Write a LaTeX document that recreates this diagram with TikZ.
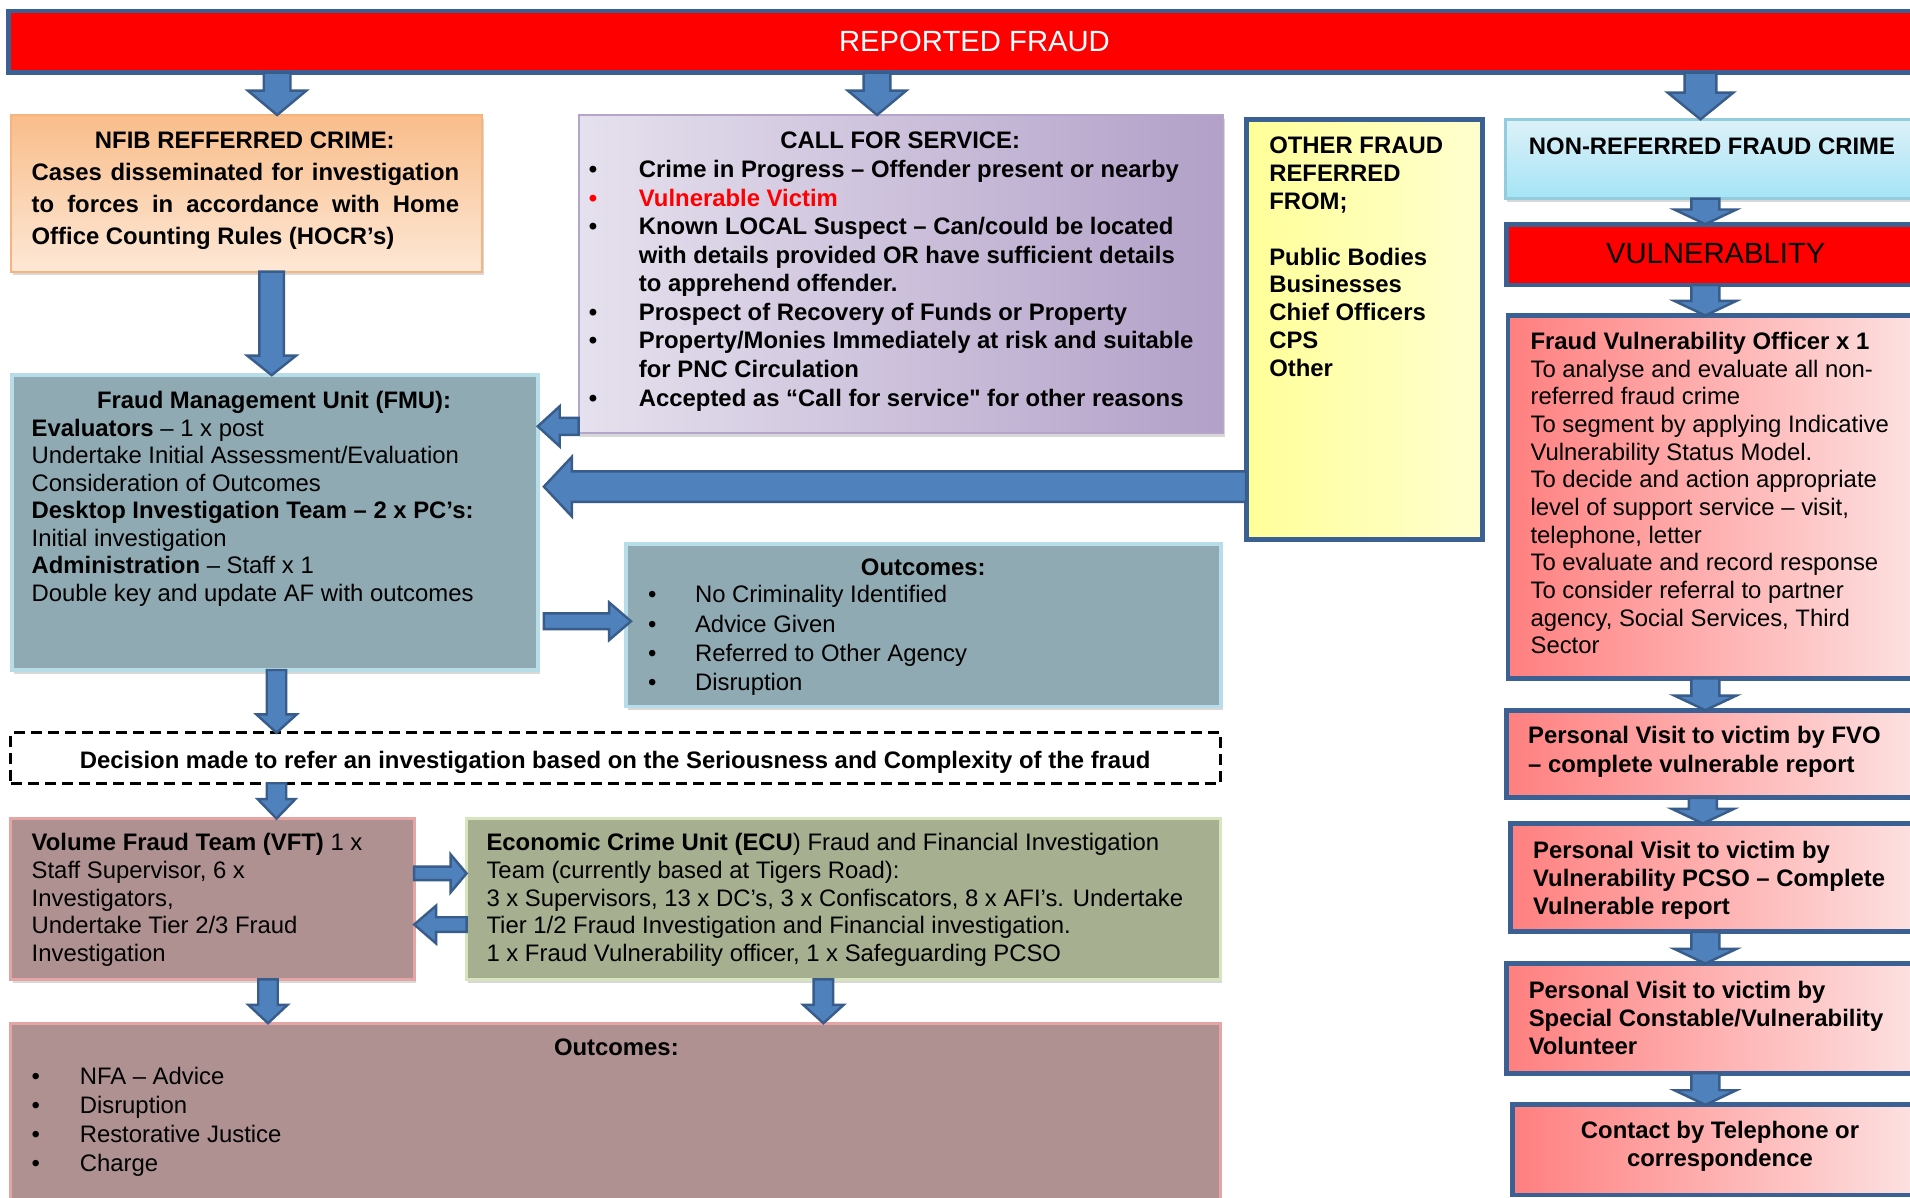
\documentclass[tikz,border=0pt]{standalone}
\usepackage{fontspec}
\setmainfont{Liberation Sans}
\usetikzlibrary{calc,fit,shadows}

\definecolor{arrF}{HTML}{4F81BD}
\definecolor{arrB}{HTML}{385D8A}
\definecolor{dkB}{HTML}{3B6194}
\definecolor{nfibA}{HTML}{F9BD8A}
\definecolor{nfibB}{HTML}{FDE8D6}
\definecolor{nfibL}{HTML}{F8B47E}
\definecolor{callA}{HTML}{E6E1EE}
\definecolor{callB}{HTML}{B2A0C8}
\definecolor{callL}{HTML}{B5A5CA}
\definecolor{yelA}{HTML}{FFFF99}
\definecolor{yelB}{HTML}{FFFFCF}
\definecolor{cyanA}{HTML}{DDF1F8}
\definecolor{cyanB}{HTML}{A5E4F6}
\definecolor{cyanL}{HTML}{93CDDD}
\definecolor{pinkA}{HTML}{FF7F7F}
\definecolor{pinkB}{HTML}{FDE2E2}
\definecolor{tealF}{HTML}{8FAAB2}
\definecolor{tealL}{HTML}{B7DEE8}
\definecolor{roseF}{HTML}{B09191}
\definecolor{roseL}{HTML}{E6A5A5}
\definecolor{oliveF}{HTML}{A6AF8F}
\definecolor{oliveL}{HTML}{D7E4BD}

\newcommand\fsz{\fontsize{19.6pt}{22.7pt}\selectfont}
\newcommand\tst{\rule{0pt}{15pt}}
\newcommand\mybul[1]{\makebox[#1][l]{\textbullet}}

% block arrows: #1 start, #2 end, #3 shaft half width, #4 head half width, #5 head length
\newcommand\darr[5]{\path[barrow] let \p1=#1, \p2=#2 in
  (\x1-#3,\y1) -- (\x1+#3,\y1) -- (\x1+#3,\y2+#5) -- (\x1+#4,\y2+#5) -- (\x1,\y2)
  -- (\x1-#4,\y2+#5) -- (\x1-#3,\y2+#5) -- cycle;}
\newcommand\larr[5]{\path[barrow] let \p1=#1, \p2=#2 in
  (\x1,\y1+#3) -- (\x1,\y1-#3) -- (\x2+#5,\y1-#3) -- (\x2+#5,\y1-#4) -- (\x2,\y1)
  -- (\x2+#5,\y1+#4) -- (\x2+#5,\y1+#3) -- cycle;}
\newcommand\rarr[5]{\path[barrow] let \p1=#1, \p2=#2 in
  (\x1,\y1+#3) -- (\x1,\y1-#3) -- (\x2-#5,\y1-#3) -- (\x2-#5,\y1-#4) -- (\x2,\y1)
  -- (\x2-#5,\y1+#4) -- (\x2-#5,\y1+#3) -- cycle;}

\tikzset{
  area/.style={inner sep=0pt, outer sep=0pt},
  shd/.style={drop shadow={shadow xshift=1.5pt, shadow yshift=-3pt, opacity=.3}},
  darkbox/.style={area, draw=dkB, line width=4pt},
  pinkbox/.style={darkbox, left color=pinkA, right color=pinkB},
  txt/.style={inner sep=0pt, outer sep=0pt, anchor=north west, align=left, font=\fsz},
  ttl/.style={inner sep=0pt, outer sep=0pt, anchor=base, font=\fsz\bfseries},
  barrow/.style={fill=arrF, draw=arrB, line width=2pt, line join=miter},
}

\begin{document}
\begin{tikzpicture}[x=1pt, y=-1pt]
\clip (0,0) rectangle (1568,983);
\fill[white] (0,0) rectangle (1568,983);

% ---------- boxes ----------
\node[area, draw=dkB, line width=4pt, fill=red, fit={(7,9) (1576,59.6)}] (banner) {};
\node[area, shd, draw=nfibL, line width=1.5pt, top color=nfibA, bottom color=nfibB, fit={(9,94.4) (396,223)}] (nfib) {};
\node[area, shd, draw=callL, line width=1.5pt, left color=callA, right color=callB, fit={(475,94.4) (1004,355.6)}] (call) {};
\node[area, draw=dkB, line width=4pt, left color=yelA, right color=yelB, fit={(1023,98) (1217,443)}] (other) {};
\node[area, shd, draw=cyanL, line width=2pt, top color=cyanA, bottom color=cyanB, fit={(1236,98) (1576,163)}] (nonref) {};
\node[darkbox, fill=red, fit={(1237,184) (1576,234)}] (vuln) {};
\node[pinkbox, fit={(1238,259) (1576,557)}] (fvo) {};
\node[pinkbox, fit={(1237,583) (1576,655)}] (pva) {};
\node[pinkbox, fit={(1240,676) (1576,765)}] (pvb) {};
\node[pinkbox, fit={(1237,791) (1576,881)}] (pvc) {};
\node[pinkbox, fit={(1242,907) (1576,981)}] (pvd) {};
\node[area, shd, draw=tealL, line width=3pt, fill=tealF, fit={(10,308) (441.5,550)}] (fmu) {};
\node[area, shd, draw=tealL, line width=3pt, fill=tealF, fit={(514,446.5) (1002.5,580)}] (out1) {};
\node[area, draw=black, line width=2.5pt, dash pattern=on 9pt off 5pt, fit={(9,601.5) (1002,643)}] (dec) {};
\node[area, shd, draw=roseL, line width=2.5pt, fill=roseF, fit={(9,672) (340,804)}] (vft) {};
\node[area, shd, draw=oliveL, line width=2.5pt, fill=oliveF, fit={(383,672) (1002,804)}] (ecu) {};
\node[area, draw=roseL, line width=2.5pt, fill=roseF, fit={(9,840) (1002,995)}] (out2) {};

\coordinate (fmuR) at ([xshift=5pt]fmu.east);
\coordinate (out1L) at ([xshift=4pt]out1.west);

% ---------- arrows ----------
\darr{(227.5,0 |- banner.south)}{(227.5,0 |- nfib.north)}{11pt}{24pt}{20pt}
\darr{(720,0 |- banner.south)}{(720,0 |- call.north)}{11pt}{24pt}{20pt}
\darr{(1396,0 |- banner.south)}{(1396,0 |- nonref.north)}{13pt}{27pt}{22pt}
\darr{(223,0 |- nfib.south)}{(223,0 |- fmu.north)}{10pt}{20pt}{16pt}
\larr{(call.west |- 0,350)}{(fmu.east)}{7pt}{16.5pt}{18pt}
\larr{(other.west |- 0,399.5)}{(fmuR)}{12.5pt}{24.5pt}{23pt}
\rarr{(fmuR |- 0,510)}{(out1L)}{6.5pt}{15.5pt}{18pt}
\darr{(227,0 |- fmu.south)}{(227,0 |- dec.north)}{8pt}{16.5pt}{15pt}
\darr{(227,0 |- dec.south)}{(227,0 |- vft.north)}{8pt}{15.5pt}{16pt}
\rarr{(vft.east |- 0,717)}{(ecu.west)}{5.5pt}{15.5pt}{13pt}
\larr{(ecu.west |- 0,759)}{(vft.east)}{6pt}{15.5pt}{18pt}
\darr{(220,0 |- vft.south)}{(220,0 |- out2.north)}{8pt}{16pt}{15pt}
\darr{(676,0 |- ecu.south)}{(676,0 |- out2.north)}{8pt}{16.5pt}{15pt}
\darr{(1400,0 |- nonref.south)}{(1400,0 |- vuln.north)}{11.5pt}{25.5pt}{12pt}
\darr{(1400,0 |- vuln.south)}{(1400,0 |- fvo.north)}{11.5pt}{25.5pt}{12pt}
\darr{(1400,0 |- fvo.south)}{(1400,0 |- pva.north)}{11.5pt}{25.5pt}{12pt}
\darr{(1398,0 |- pva.south)}{(1398,0 |- pvb.north)}{11.5pt}{25.5pt}{12pt}
\darr{(1400,0 |- pvb.south)}{(1400,0 |- pvc.north)}{11.5pt}{25.5pt}{12pt}
\darr{(1400,0 |- pvc.south)}{(1400,0 |- pvd.north)}{11.5pt}{25.5pt}{12pt}

% ---------- texts ----------
\node[inner sep=0pt, anchor=base, text=white, font=\fontsize{24pt}{28pt}\selectfont] (bannerT) at (800,42) {REPORTED FRAUD};

\node[ttl] (nfibH) at (201,122) {NFIB REFFERRED CRIME:};
\node[txt, font={\fontsize{19.6pt}{26.2pt}\selectfont\bfseries}] (nfibT) at (26,133.5)
  {\tst\makebox[351pt][s]{Cases disseminated for investigation}\\\makebox[351pt][s]{to forces in accordance with Home}\\Office Counting Rules (HOCR’s)};

\node[ttl] (callH) at (739,122) {CALL FOR SERVICE:};
\node[txt, font={\fontsize{19.6pt}{23.4pt}\selectfont\bfseries}] (callT) at (483.5,131.1)
  {\tst\mybul{41pt}Crime in Progress – Offender present or nearby\\
   \textcolor{red}{\mybul{41pt}Vulnerable Victim}\\
   \mybul{41pt}Known LOCAL Suspect – Can/could be located\\
   \hspace*{41pt}with details provided OR have sufficient details\\
   \hspace*{41pt}to apprehend offender.\\
   \mybul{41pt}Prospect of Recovery of Funds or Property\\
   \mybul{41pt}Property/Monies Immediately at risk and suitable\\
   \hspace*{41pt}for PNC Circulation\\
   \mybul{41pt}Accepted as “Call for service\textquotedbl{} for other reasons};

\node[txt, font={\fontsize{19.6pt}{22.8pt}\selectfont\bfseries}] (otherT) at (1042,111.4)
  {\tst OTHER FRAUD\\REFERRED\\FROM;\\\mbox{}\\Public Bodies\\Businesses\\Chief Officers\\CPS\\Other};

\node[inner sep=0pt, anchor=base west, font=\fsz\bfseries] (nonrefT) at (1255,126.6) {NON-REFERRED FRAUD CRIME};
\node[inner sep=0pt, anchor=base, font=\fontsize{24pt}{28pt}\selectfont] (vulnT) at (1408.5,216.6) {VULNERABLITY};

\node[txt] (fvoT) at (1256.5,272)
  {\tst\textbf{Fraud Vulnerability Officer x 1}\\To analyse and evaluate all non-\\referred fraud crime\\To segment by applying Indicative\\Vulnerability Status Model.\\To decide and action appropriate\\level of support service – visit,\\telephone, letter\\To evaluate and record response\\To consider referral to partner\\agency, Social Services, Third\\Sector};

\node[txt, font={\fontsize{19.6pt}{23.5pt}\selectfont\bfseries}] (pvaT) at (1254.5,595.5)
  {\tst Personal Visit to victim by FVO\\– complete vulnerable report};
\node[txt, font={\fontsize{19.6pt}{23pt}\selectfont\bfseries}] (pvbT) at (1258.6,689.5)
  {\tst Personal Visit to victim by\\Vulnerability PCSO – Complete\\Vulnerable report};
\node[txt, font={\fontsize{19.6pt}{23pt}\selectfont\bfseries}] (pvcT) at (1255,804.5)
  {\tst Personal Visit to victim by\\Special Constable/Vulnerability\\Volunteer};
\node[txt, anchor=north, align=center, font={\fontsize{19.6pt}{23pt}\selectfont\bfseries}] (pvdT) at (1412,920)
  {\tst Contact by Telephone or\\correspondence};

\node[ttl] (fmuH) at (225,335.2) {Fraud Management Unit (FMU):};
\node[txt, font={\fontsize{19.6pt}{22.6pt}\selectfont}] (fmuT) at (26,343)
  {\tst\textbf{Evaluators} – 1 x post\\Undertake Initial Assessment/Evaluation\\Consideration of Outcomes\\\textbf{Desktop Investigation Team – 2 x PC’s:}\\Initial investigation\\\textbf{Administration} – Staff x 1\\Double key and update AF with outcomes};

\node[ttl] (out1H) at (758,472.3) {Outcomes:};
\node[txt, font={\fontsize{19.6pt}{24pt}\selectfont}] (out1T) at (532,480)
  {\tst\mybul{38.6pt}No Criminality Identified\\\mybul{38.6pt}Advice Given\\\mybul{38.6pt}Referred to Other Agency\\\mybul{38.6pt}Disruption};

\node[ttl] (decT) at (505,630.5) {Decision made to refer an investigation based on the Seriousness and Complexity of the fraud};

\node[txt, font={\fontsize{19.6pt}{22.65pt}\selectfont}] (vftT) at (26,683.5)
  {\tst\textbf{Volume Fraud Team (VFT)} 1 x\\Staff Supervisor, 6 x\\Investigators,\\Undertake Tier 2/3 Fraud\\Investigation};
\node[txt, font={\fontsize{19.6pt}{22.65pt}\selectfont}] (ecuT) at (399.4,683.5)
  {\tst\textbf{Economic Crime Unit (ECU}) Fraud and Financial Investigation\\Team (currently based at Tigers Road):\\3 x Supervisors, 13 x DC’s, 3 x Confiscators, 8 x AFI’s. Undertake\\Tier 1/2 Fraud Investigation and Financial investigation.\\1 x Fraud Vulnerability officer, 1 x Safeguarding PCSO};

\node[ttl] (out2H) at (506,866.4) {Outcomes:};
\node[txt, font={\fontsize{19.6pt}{23.7pt}\selectfont}] (out2T) at (26,875.5)
  {\tst\mybul{39.5pt}NFA – Advice\\\mybul{39.5pt}Disruption\\\mybul{39.5pt}Restorative Justice\\\mybul{39.5pt}Charge};
\end{tikzpicture}
\end{document}
